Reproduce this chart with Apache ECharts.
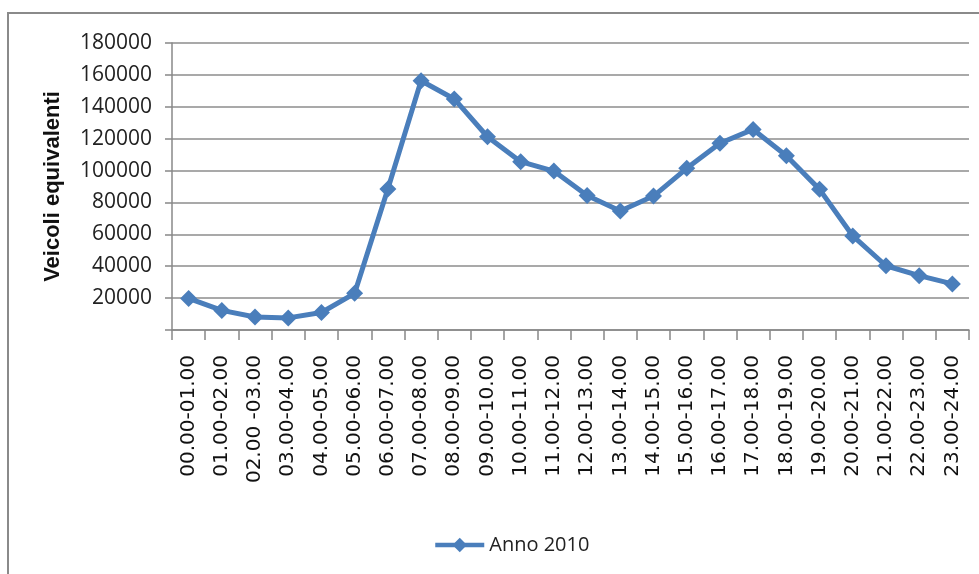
<!DOCTYPE html>
<html>
<head>
<meta charset="utf-8">
<script src="https://cdn.jsdelivr.net/npm/echarts@6/dist/echarts.min.js"></script>
<style>html,body{margin:0;padding:0;background:#fff;}#c{width:979px;height:574px;}</style>
</head>
<body>
<div id="c"></div>
<script>
const categories = ["00.00-01.00","01.00-02.00","02.00 -03.00","03.00-04.00","04.00-05.00","05.00-06.00","06.00-07.00","07.00-08.00","08.00-09.00","09.00-10.00","10.00-11.00","11.00-12.00","12.00-13.00","13.00-14.00","14.00-15.00","15.00-16.00","16.00-17.00","17.00-18.00","18.00-19.00","19.00-20.00","20.00-21.00","21.00-22.00","22.00-23.00","23.00-24.00"];
const anno2010 = [19800,12300,8200,7600,11000,23000,88400,156300,144900,121200,105600,99700,84300,74600,84000,101400,117100,125800,109300,88200,59000,40300,34100,28900];
const seriesName = "Anno 2010";
const yAxisName = "Veicoli equivalenti";

const chart = echarts.init(document.getElementById('c'), null, {renderer:'canvas'});
chart.setOption({
  animation:false,
  backgroundColor:'#fff',
  graphic:[{type:'rect',shape:{x:8,y:13,width:1000,height:600},style:{fill:'none',stroke:'#8a8a8a',lineWidth:2},z:-1}],
  grid:{left:172,top:43,right:10,bottom:244,containLabel:false},
  legend:{left:428,top:530,itemWidth:49,itemHeight:18,itemGap:10,
    lineStyle:{width:4.5},
    textStyle:{fontFamily:'Open Sans',fontSize:20,color:'#222'},
    data:[{name:seriesName}]},
  xAxis:{type:'category',data:categories,boundaryGap:true,
    axisLine:{lineStyle:{color:'#888',width:1.5}},
    axisTick:{show:true,length:10,alignWithLabel:false,lineStyle:{color:'#888',width:1.5}},
    axisLabel:{interval:0,rotate:90,margin:25,fontFamily:'DejaVu Sans',fontSize:20,color:'#111'}},
  yAxis:{type:'value',min:0,max:180000,interval:20000,
    name:yAxisName,nameLocation:'middle',nameGap:108,nameRotate:90,
    nameTextStyle:{fontFamily:'Liberation Sans',fontWeight:'bold',fontSize:22,color:'#111'},
    axisLine:{show:true,lineStyle:{color:'#888',width:1.5}},
    axisTick:{show:true,length:7,lineStyle:{color:'#888',width:1.5}},
    splitLine:{lineStyle:{color:'#8c8c8c',width:1.5}},
    axisLabel:{margin:20,fontFamily:'Open Sans',fontSize:21,color:'#222',
      formatter:v=> v===0 ? '' : String(v)}},
  series:[{name:seriesName,type:'line',data:anno2010,
    symbol:'diamond',symbolSize:17,
    itemStyle:{color:'#4a7ebb'},
    lineStyle:{color:'#4a7ebb',width:5}}]
});
</script>
</body>
</html>
